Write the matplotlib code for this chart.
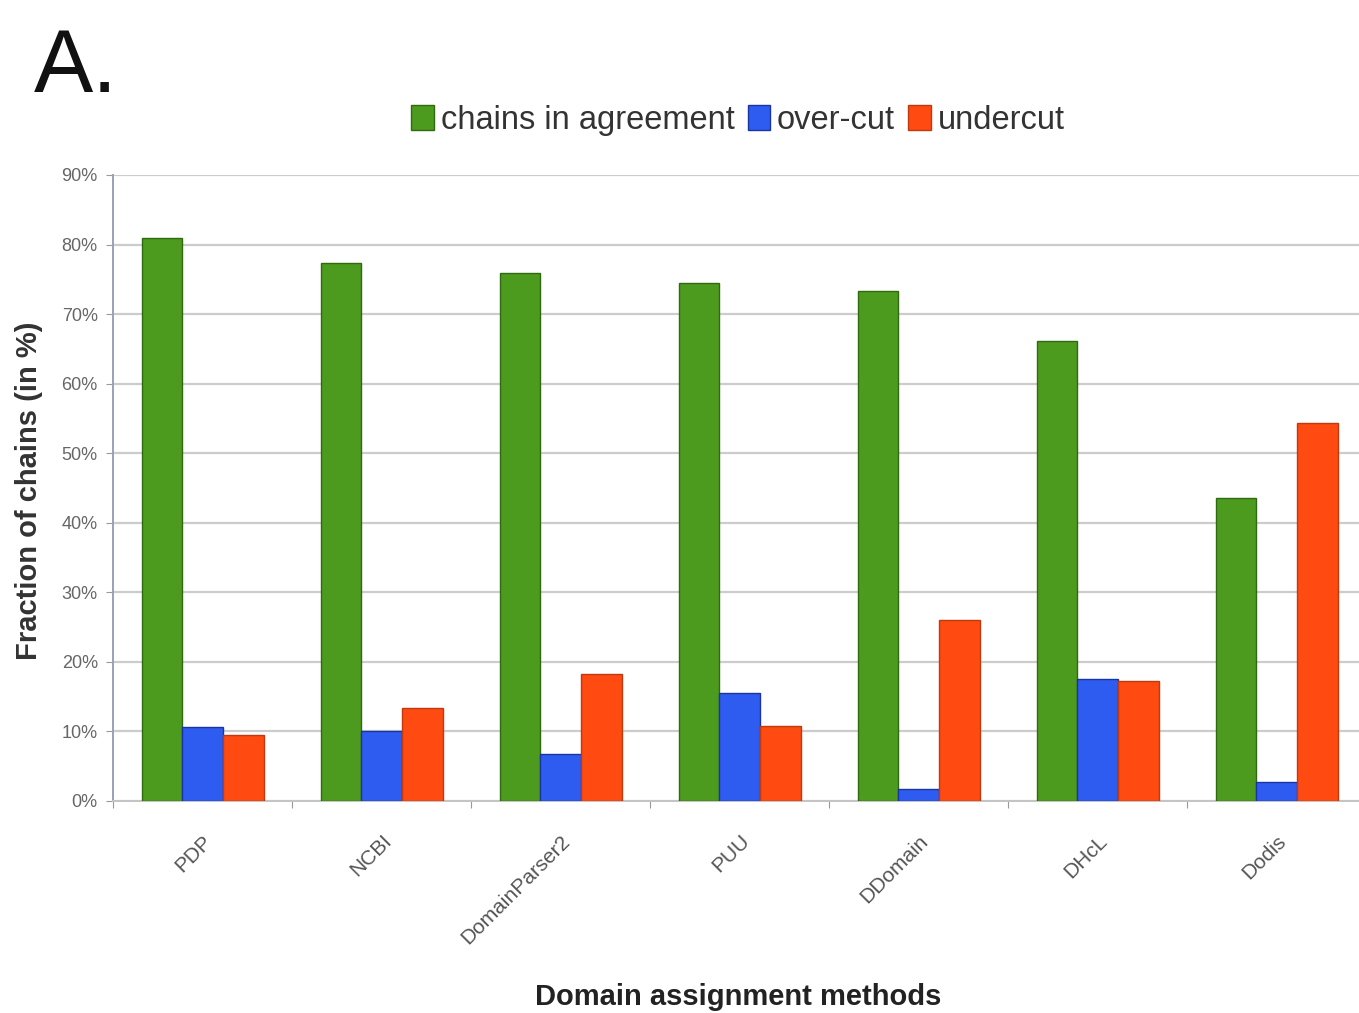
import numpy as np
import matplotlib.pyplot as plt
from matplotlib.patches import Patch

plt.rcParams.update({
    "font.family": ["Liberation Sans", "DejaVu Sans"],
})

# ── Data ────────────────────────────────────────────────────────────────────
methods = ["PDP", "NCBI", "DomainParser2", "PUU", "DDomain", "DHcL", "Dodis"]
agreement = [81.0, 77.3, 75.9, 74.4, 73.3, 66.1, 43.5]
over_cut = [10.6, 10.1, 6.8, 15.5, 1.7, 17.5, 2.7]
undercut = [9.5, 13.4, 18.2, 10.8, 26.0, 17.2, 54.3]

series_names = ["chains in agreement", "over-cut", "undercut"]
colors = ["#4c9a1e", "#2f5cf0", "#ff4a12"]
edges = ["#2f6a10", "#1a34a0", "#c03a10"]

# ── Figure ──────────────────────────────────────────────────────────────────
fig = plt.figure(figsize=(13.59, 10.13), dpi=100)
ax = fig.add_axes([0.0832, 0.2093, 0.922, 0.618])

x = np.arange(len(methods))
w = 0.227
for i, (vals, c, ec) in enumerate(zip([agreement, over_cut, undercut], colors, edges)):
    ax.bar(x + (i - 1) * w, vals, width=w, color=c, edgecolor=ec, linewidth=1.0, zorder=3)

ax.set_xlim(-0.5, len(methods) - 0.5)
ax.set_ylim(0, 90)
ax.set_yticks(np.arange(0, 91, 10))
ax.set_yticklabels([f"{v}%" for v in range(0, 91, 10)], fontsize=13, color="#666666")
ax.yaxis.grid(True, color="#cccccc", linewidth=1.6, zorder=0)

# category boundaries carry the tick marks, names sit under the group centres
ax.set_xticks(np.arange(-0.5, len(methods), 1), minor=False)
ax.set_xticklabels([])
ax.set_xticks(x, minor=True)
ax.set_xticklabels(methods, minor=True, rotation=45, ha="right", va="top",
                   fontsize=15, color="#555555", rotation_mode="anchor")
ax.tick_params(axis="x", which="minor", length=0, pad=22)
ax.tick_params(axis="x", which="major", length=5, color="#999999")
ax.tick_params(axis="y", length=5, color="#999999", pad=6)

for side in ["top", "right"]:
    ax.spines[side].set_visible(False)
ax.spines["left"].set_color("#9aa0b8")
ax.spines["bottom"].set_color("#c4c4c4")
ax.spines["left"].set_linewidth(1.4)
ax.spines["bottom"].set_linewidth(1.4)

fig.text(0.021, 0.516, "Fraction of chains (in %)", rotation=90, fontsize=21,
         fontweight="bold", color="#333333", ha="center", va="center")
fig.text(0.543, 0.016, "Domain assignment methods", fontsize=21,
         fontweight="bold", color="#222222", ha="center", va="center")

handles = [Patch(facecolor=c, edgecolor=ec, label=n)
           for c, ec, n in zip(colors, edges, series_names)]
fig.legend(handles=handles, loc="center", bbox_to_anchor=(0.543, 0.881), ncol=3,
           frameon=False, fontsize=23.5, handlelength=0.7, handleheight=0.8,
           handletextpad=0.2, columnspacing=0.4, labelcolor="#333333")

fig.text(0.025, 0.932, "A.", fontsize=64, color="#111111", va="center", ha="left")

fig.savefig("out.png", dpi=100)
